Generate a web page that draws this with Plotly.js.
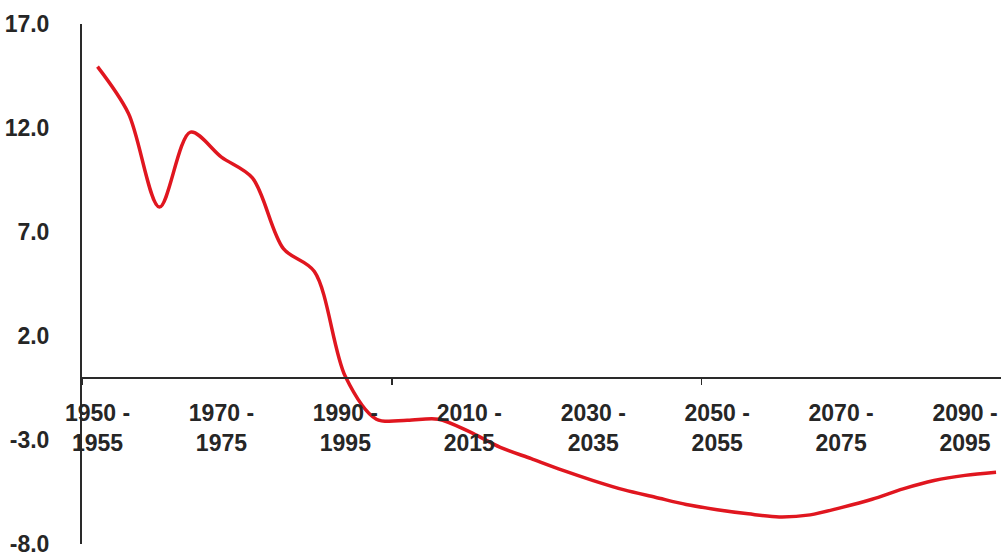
<!DOCTYPE html>
<html>
<head>
<meta charset="utf-8">
<script src="https://cdn.plot.ly/plotly-3.0.1.min.js"></script>
<style>html,body{margin:0;padding:0;background:#fff;}#chart{width:1001px;height:557px;}</style>
</head>
<body>
<div id="chart"></div>
<script>
const categories = [
  "1950 - 1955","1955 - 1960","1960 - 1965","1965 - 1970","1970 - 1975",
  "1975 - 1980","1980 - 1985","1985 - 1990","1990 - 1995","1995 - 2000",
  "2000 - 2005","2005 - 2010","2010 - 2015","2015 - 2020","2020 - 2025",
  "2025 - 2030","2030 - 2035","2035 - 2040","2040 - 2045","2045 - 2050",
  "2050 - 2055","2055 - 2060","2060 - 2065","2065 - 2070","2070 - 2075",
  "2075 - 2080","2080 - 2085","2085 - 2090","2090 - 2095","2095 - 2100"
];
const values = [
  14.95, 12.7, 8.2, 11.8, 10.6, 9.6, 6.2, 5.1, 0.05, -2.0,
  -2.05, -2.0, -2.6, -3.35, -3.9, -4.45, -4.95, -5.4, -5.75, -6.1,
  -6.35, -6.55, -6.7, -6.6, -6.25, -5.85, -5.35, -4.95, -4.7, -4.55
];
const labelledCategories = [
  "1950 - 1955","1970 - 1975","1990 - 1995","2010 - 2015",
  "2030 - 2035","2050 - 2055","2070 - 2075","2090 - 2095"
];
const yTicks = [-8, -3, 2, 7, 12, 17];
const yTickText = ["-8.0", "-3.0", "2.0", "7.0", "12.0", "17.0"];

const xIdx = categories.map((c, i) => i);
const tickIdx = labelledCategories.map(c => categories.indexOf(c));
const tickText = labelledCategories.map(c => c.replace(" - ", " -<br>"));

const font = {family: "Liberation Sans, Arial, sans-serif", size: 23, color: "#262626", weight: "bold"};

const trace = {
  x: xIdx,
  y: values,
  type: "scatter",
  mode: "lines",
  line: {color: "#e0161f", width: 3.5, shape: "spline", smoothing: 0.9},
  hoverinfo: "skip"
};

const layout = {
  width: 1001,
  height: 557,
  margin: {l: 81.5, r: 0, t: 24, b: 13},
  paper_bgcolor: "#ffffff",
  plot_bgcolor: "#ffffff",
  showlegend: false,
  font: font,
  xaxis: {
    type: "linear",
    range: [-0.5, 29.16],
    anchor: "free",
    position: 0.32,
    showline: true,
    linecolor: "#2a2a2a",
    linewidth: 2,
    showgrid: false,
    zeroline: false,
    tickmode: "array",
    tickvals: tickIdx,
    ticktext: tickText,
    ticks: "",
    ticklabelstandoff: 15,
    tickfont: font,
    minor: {
      tickmode: "array",
      tickvals: [-0.5, 9.5, 19.5, 29.5],
      ticks: "outside",
      ticklen: 6,
      tickwidth: 1.5,
      tickcolor: "#2a2a2a",
      showgrid: false
    }
  },
  yaxis: {
    range: [-8, 17],
    showline: true,
    linecolor: "#2a2a2a",
    linewidth: 2,
    showgrid: false,
    zeroline: false,
    tickmode: "array",
    tickvals: yTicks,
    ticktext: yTickText,
    ticks: "",
    ticklabelstandoff: 26,
    ticklabeloverflow: "allow",
    tickfont: font
  }
};

Plotly.newPlot("chart", [trace], layout, {staticPlot: true, displayModeBar: false});
</script>
</body>
</html>
